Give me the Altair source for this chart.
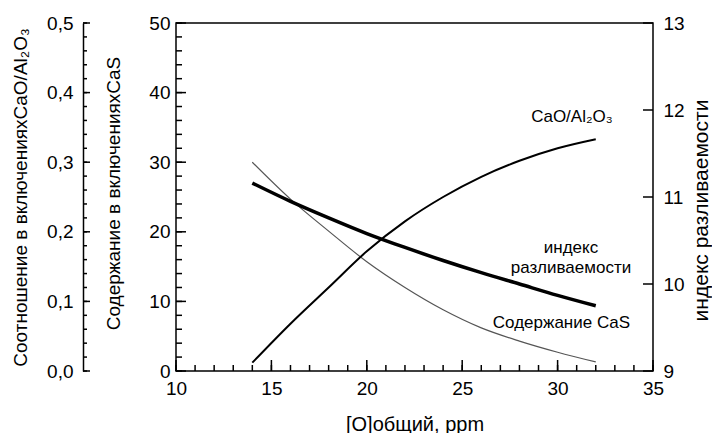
import altair as alt
import pandas as pd

# ---- data ----
x_ppm = [14, 16, 18, 20, 22, 24, 26, 28, 30, 32]
cao_al2o3 = [0.012, 0.068, 0.120, 0.172, 0.215, 0.250, 0.279, 0.302, 0.320, 0.333]
cas_content = [30.0, 24.7, 20.1, 15.7, 12.0, 8.8, 6.2, 4.3, 2.7, 1.3]
pour_index = [11.16, 10.95, 10.76, 10.58, 10.42, 10.27, 10.13, 10.00, 9.87, 9.75]

x_major = [10, 15, 20, 25, 30, 35]
x_minor = list(range(10, 36))
cas_major = [0, 10, 20, 30, 40, 50]
cas_minor = list(range(0, 51, 2))
ratio_major = [0.0, 0.1, 0.2, 0.3, 0.4, 0.5]
ratio_minor = [round(i * 0.02, 2) for i in range(26)]
index_major = [9, 10, 11, 12, 13]

ann_text = ["CaO/Al\u2082O\u2083", "индекс", "разливаемости", "Содержание CaS"]
ann_x = [30.75, 30.7, 30.7, 30.2]
ann_y = [36.5, 17.7, 14.8, 6.9]

df = pd.DataFrame({"x": x_ppm, "cao": cao_al2o3, "cas": cas_content, "idx": pour_index})
ann = pd.DataFrame({"t": ann_text, "x": ann_x, "y": ann_y})

FONT = "Liberation Sans"
TICK_COLOR = "black"
W, H = 477, 348
OUTER = 93  # distance of the outer left axis from the plot
xs = alt.Scale(domain=[10, 35], nice=False, zero=False)
cas_s = alt.Scale(domain=[0, 50], nice=False, zero=False)
ratio_s = alt.Scale(domain=[0, 0.5], nice=False, zero=False)
idx_s = alt.Scale(domain=[9, 13], nice=False, zero=False)

base = alt.Chart(df)
x_none = alt.X("x:Q", scale=xs, axis=None)

cas_line = base.mark_line(color="#555555", strokeWidth=1.2, interpolate="monotone").encode(
    x=alt.X("x:Q", scale=xs, axis=alt.Axis(
        orient="bottom", values=x_major, ticks=False, domain=False, grid=False,
        labelPadding=8, labelFontSize=19, labelFlush=False, labelOverlap=False,
        title="[O]общий, ppm", titleFontSize=20, titleY=53, titleBaseline="middle")),
    y=alt.Y("cas:Q", scale=cas_s, axis=alt.Axis(
        orient="left", values=cas_major, ticks=False, domain=False, grid=False,
        labelPadding=6, labelFontSize=19, labelFlush=False, labelOverlap=False,
        title="Содержание в включенияхCaS", titleFontSize=19, titleAngle=270,
        titleX=-63, titleY=170, titleAlign="center", titleBaseline="middle")),
)

cao_line = base.mark_line(color="black", strokeWidth=2, interpolate="monotone").encode(
    x=x_none,
    y=alt.Y("cao:Q", scale=ratio_s, axis=alt.Axis(
        orient="left", offset=OUTER, values=ratio_major, ticks=False, domain=True,
        domainColor="black", domainWidth=1.5, grid=False,
        labelPadding=10, labelFontSize=19, labelFlush=False, labelOverlap=False,
        labelExpr="replace(format(datum.value, '.1f'), '.', ',')",
        title="Соотношение в включенияхCaO/Al\u2082O\u2083", titleFontSize=19, titleAngle=270,
        titleX=-63, titleY=174, titleAlign="center", titleBaseline="middle")),
)

idx_line = base.mark_line(color="black", strokeWidth=3.5, interpolate="monotone").encode(
    x=x_none,
    y=alt.Y("idx:Q", scale=idx_s, axis=alt.Axis(
        orient="right", values=index_major, ticks=False, domain=False, grid=False,
        labelPadding=10, labelFontSize=19, labelFlush=False, labelOverlap=False,
        title="индекс разливаемости", titleFontSize=21, titleAngle=270,
        titleX=48, titleY=187, titleAlign="center", titleBaseline="middle")),
)


def x_ticks(values, size):
    return alt.Chart(pd.DataFrame({"v": values})).mark_rule(color=TICK_COLOR, strokeWidth=1.5).encode(
        x=alt.X("v:Q", scale=xs, axis=None),
        y=alt.value(H - size), y2=alt.value(H),
    )


def y_ticks(values, scale, x0, x1):
    return alt.Chart(pd.DataFrame({"v": values})).mark_rule(color=TICK_COLOR, strokeWidth=1.5).encode(
        y=alt.Y("v:Q", scale=scale, axis=None),
        x=alt.value(x0), x2=alt.value(x1),
    )


tick_layers = [
    x_ticks(x_minor, 6),
    x_ticks(x_major, 11),
    y_ticks(cas_minor, cas_s, 0, 6),
    y_ticks(cas_major, cas_s, 0, 10),
    y_ticks(ratio_minor, ratio_s, -OUTER, -OUTER + 4),
    y_ticks(ratio_major, ratio_s, -OUTER, -OUTER + 7),
    y_ticks(index_major, idx_s, W - 10, W),
]

labels = alt.Chart(ann).mark_text(fontSize=17, font=FONT, color="black", align="center", baseline="middle").encode(
    x=x_none,
    y=alt.Y("y:Q", scale=cas_s, axis=None),
    text="t:N",
)

chart = alt.layer(
    cas_line, cao_line, idx_line, *tick_layers, labels
).resolve_scale(x="independent", y="independent").resolve_axis(
    x="independent", y="independent"
).properties(
    width=W, height=H,
    padding={"left": 168, "top": 15, "right": 59, "bottom": 62},
    autosize=alt.AutoSizeParams(type="none"),
).configure_view(
    stroke="black", strokeWidth=1.5
).configure_axis(
    labelFont=FONT, titleFont=FONT, labelColor="black", titleColor="black",
    titleFontWeight="normal"
)

chart.save("out.html", embed_options={"renderer": "svg", "actions": False})
